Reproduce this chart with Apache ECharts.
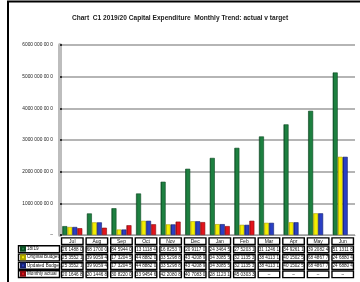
<!DOCTYPE html>
<html>
<head>
<meta charset="utf-8">
<script src="https://cdn.jsdelivr.net/npm/echarts@6/dist/echarts.min.js"></script>
<style>
  html, body { margin: 0; padding: 0; background: #fff; }
  #chart { width: 360px; height: 282px; }
</style>
</head>
<body>
<div id="chart"></div>
<script>
// months on the x axis
const months = ["Jul", "Aug", "Sep", "Oct", "Nov", "Dec", "Jan", "Feb", "Mar", "Apr", "May", "Jun"];
// series names (data table rows)
const seriesNames = ["18/19", "Original Budget", "Updated Budget", "Monthly actual"];
// bar values
const prevYear = [280, 681, 845, 1311, 1682, 2091, 2434, 2752, 3112, 3493, 3921, 5131];
const originalBudget = [253, 399, 173, 449, 335, 434, 343, 321, 384, 402, 685, 2469];
const updatedBudget = [253, 399, 173, 449, 335, 434, 343, 321, 384, 402, 685, 2469];
const monthlyActual = [215, 230, 308, 339, 422, 407, 281, 450, null, null, null, null];
// data table texts as printed under the axis
const rowPrev = ["26 1488 0", "68 1700 0", "84 5944 0", "13 1118 4", "16 8253 7", "20 9117 0", "24 3464 5", "27 5203 1", "31 1246 1", "34 9261 1", "39 2082 4", "51 1311 8"];
const rowOrig = ["25 3552 1", "39 9059 4", "17 3204 5", "44 8882 0", "33 5298 8", "43 4208 9", "34 3085 5", "32 1135 3", "38 4113 1", "40 1502 5", "68 4867 7", "24 6880 4"];
const rowUpd = ["25 3552 1", "39 9059 4", "17 3204 5", "44 8882 0", "33 5298 8", "43 4208 9", "34 3085 5", "32 1135 3", "38 4113 1", "40 1502 5", "68 4867 7", "24 6880 4"];
const rowAct = ["20 1646 8", "20 1446 8", "30 8220 0", "33 9454 6", "42 2080 8", "40 7083 0", "28 1123 1", "45 0303 3", "–", "–", "–", "–"];
// y axis tick labels
const yTicks = ["–", "1000 000 00 0", "2000 000 00 0", "3000 000 00 0", "4000 000 00 0", "5000 000 00 0", "6000 000 00 0"];

const colors = ["#1d8040", "#f4ee00", "#2a3fc4", "#e3141c"];
const dark = ["#0b4a22", "#a8a000", "#14206e", "#8a0a0e"];

const chart = echarts.init(document.getElementById("chart"), null, { renderer: "canvas" });

const font = "Liberation Sans, Arial, sans-serif";
const cell = {
  fontSize: 4.6,
  fontFamily: font,
  color: "#111",
  width: 21.5,
  height: 6.6,
  lineHeight: 8.3,
  align: "center",
  borderColor: "#000",
  borderWidth: 1.4,
};

function barSeries(name, data, i) {
  return {
    name: name,
    type: "bar",
    data: data,
    barWidth: 5,
    barGap: "0%",
    itemStyle: {
      color: new echarts.graphic.LinearGradient(0, 0, 1, 0, [
        { offset: 0, color: dark[i] },
        { offset: 0.35, color: colors[i] },
        { offset: 1, color: colors[i] },
      ]),
      borderColor: dark[i],
      borderWidth: 0.6,
    },
  };
}

const option = {
  animation: false,
  backgroundColor: "#fff",
  title: {
    text: "Chart  C1 2019/20 Capital Expenditure  Monthly Trend: actual v target",
    left: "center",
    top: 10,
    textStyle: { fontFamily: font, fontSize: 6.6, fontWeight: "bold", color: "#222" },
  },
  grid: { left: 60, right: 5, top: 45, bottom: 47 },
  legend: {
    data: seriesNames,
    orient: "vertical",
    left: 20,
    top: 245.5,
    padding: 0,
    itemGap: 1.6,
    itemWidth: 4,
    itemHeight: 4,
    icon: "rect",
    selectedMode: false,
    textStyle: { fontFamily: font, fontSize: 4.6, color: "#111", lineHeight: 6.7, padding: [0, 0, 0, -3] },
  },
  xAxis: {
    type: "category",
    data: months,
    axisLine: { lineStyle: { color: "#a0a0a0", width: 1 } },
    axisTick: { show: false },
    axisLabel: {
      interval: 0,
      margin: 2,
      hideOverlap: false,
      formatter: (value, idx) =>
        `{h|${value}}\n{c|${rowPrev[idx]}}\n{c|${rowOrig[idx]}}\n{c|${rowUpd[idx]}}\n{c|${rowAct[idx]}}`,
      rich: {
        h: Object.assign({}, cell, { fontSize: 5 }),
        c: cell,
      },
    },
  },
  yAxis: {
    type: "value",
    min: 0,
    max: 6000,
    interval: 1000,
    axisLine: { show: true, lineStyle: { color: "#bdbdbd", width: 4 } },
    axisTick: { show: true, inside: true, length: 2, lineStyle: { color: "#000", width: 1.5 } },
    axisLabel: {
      fontFamily: font,
      fontSize: 4.8,
      color: "#222",
      margin: 7,
      padding: [9, 0, 0, 0],
      formatter: (v) => yTicks[Math.round(v / 1000)],
    },
    splitLine: { lineStyle: { color: "#9c9c9c", width: 1.5 } },
  },
  series: [
    barSeries(seriesNames[0], prevYear, 0),
    barSeries(seriesNames[1], originalBudget, 1),
    barSeries(seriesNames[2], updatedBudget, 2),
    barSeries(seriesNames[3], monthlyActual, 3),
  ],
  graphic: [
    {
      type: "rect",
      shape: { x: 8, y: 1.5, width: 420, height: 320 },
      style: { fill: "none", stroke: "#000", lineWidth: 2 },
      silent: true,
    },
    {
      type: "group",
      silent: true,
      children: seriesNames.map((n, i) => ({
        type: "rect",
        shape: { x: 18.5, y: 245.8 + i * 8.3, width: 41, height: 6.8 },
        style: { fill: "none", stroke: "#000", lineWidth: 1.4 },
      })),
    },
  ],
};

chart.setOption(option);
</script>
</body>
</html>
